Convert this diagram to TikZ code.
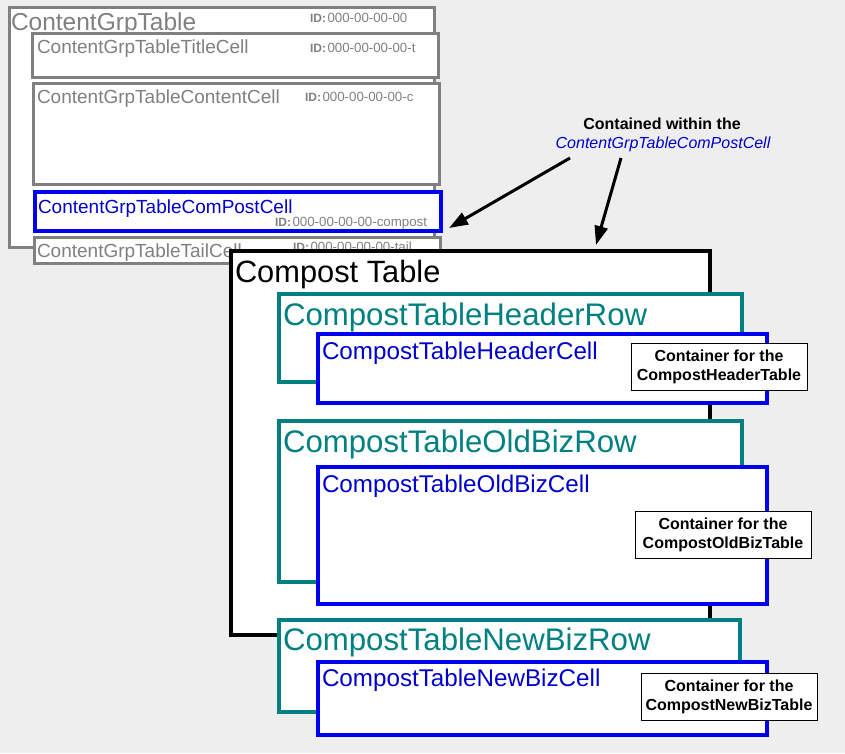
\documentclass[tikz,border=0pt]{standalone}
\usepackage{fontspec}
\setmainfont{Liberation Sans}
\usetikzlibrary{arrows.meta}
\definecolor{bg}{HTML}{EEEEEE}
\definecolor{gbord}{HTML}{808080}
\definecolor{gtext}{HTML}{808080}
\definecolor{bl}{HTML}{0000F0}
\definecolor{bltext}{HTML}{0000CC}
\definecolor{tl}{HTML}{008080}
\newcommand{\idt}[1]{{\fontsize{12}{12}\selectfont\bfseries ID:}\hspace{1.5pt}#1}
\begin{document}
\begin{tikzpicture}[x=1pt,y=-1pt,
  box/.style={draw, fill=white, rectangle, inner sep=0pt, outer sep=0pt, anchor=north west},
  gbox/.style={box, draw=gbord, line width=3pt},
  bbox/.style={box, draw=bl, line width=3.5pt},
  tbox/.style={box, draw=tl, line width=4pt},
  kbox/.style={box, draw=black, line width=4pt},
  lbl/.style={anchor=base west, inner sep=0pt, outer sep=0pt},
  gbig/.style={lbl, text=gtext, font=\fontsize{24.5}{28}\selectfont},
  gmid/.style={lbl, text=gtext, font=\fontsize{19}{22}\selectfont},
  bmid/.style={lbl, text=bltext, font=\fontsize{19}{22}\selectfont},
  idl/.style={lbl, text=gtext, font=\fontsize{13.3}{15}\selectfont},
  ktitle/.style={lbl, text=black, font=\fontsize{30.8}{34}\selectfont},
  trow/.style={lbl, text=tl, font=\fontsize{31.2}{34}\selectfont},
  bcell/.style={lbl, text=bltext, font=\fontsize{24.2}{28}\selectfont},
  note/.style={draw=black, line width=1pt, fill=white, rectangle, inner sep=0pt,
    minimum width=176pt, minimum height=47pt, align=center,
    font=\fontsize{16}{19}\selectfont\bfseries},
  ann/.style={anchor=base, inner sep=0pt, font=\fontsize{16}{19}\selectfont},
  arr/.style={line width=3pt, -{Triangle[length=19pt,width=13pt]}}
]
\fill[bg] (0,0) rectangle (845,753);
\useasboundingbox (0,0) rectangle (845,753);

% ContentGrpTable
\node[gbox, minimum width=425pt, minimum height=240pt] (cgt) at (9,7) {};
\node[gbig] (cgtT) at (11,30) {ContentGrpTable};
\node[idl] (cgtI) at (310,22) {\idt{000-00-00-00}};

\node[gbox, minimum width=406pt, minimum height=44pt] (title) at (32,33) {};
\node[gmid] (titleT) at (37,53) {ContentGrpTableTitleCell};
\node[idl] (titleI) at (310,52.5) {\idt{000-00-00-00-t}};

\node[gbox, minimum width=406pt, minimum height=101pt] (cont) at (33,83) {};
\node[gmid] (contT) at (37,103) {ContentGrpTableContentCell};
\node[idl] (contI) at (305,101.5) {\idt{000-00-00-00-c}};

\node[bbox, minimum width=406pt, minimum height=39pt] (cpc) at (35,192) {};
\node[bmid] (cpcT) at (38,213) {ContentGrpTableComPostCell};
\node[idl] (cpcI) at (275,226) {\idt{000-00-00-00-compost}};

\node[gbox, minimum width=406pt, minimum height=26pt] (tail) at (34,237) {};
\node[gmid] (tailT) at (37,257) {ContentGrpTableTailCell};
\node[idl] (tailI) at (293,251) {\idt{000-00-00-00-tail}};

% annotation and arrows
\node[ann] (ann1) at (662,129) {\bfseries Contained within the};
\node[ann, text=bltext] (ann2) at (663,148) {\itshape ContentGrpTableComPostCell};
\coordinate (s1) at (570,158);
\coordinate (e1) at (449,228);
\coordinate (s2) at (621,158);
\coordinate (e2) at (596,245);
\draw[arr] (s1) -- (e1);
\draw[arr] (s2) -- (e2);

% Compost Table
\node[kbox, minimum width=479pt, minimum height=384pt] (ct) at (231,251) {};
\node[ktitle] (ctT) at (235,282) {Compost Table};

\node[tbox, minimum width=463pt, minimum height=88pt] (hrow) at (279,294) {};
\node[trow] (hrowT) at (283,325) {CompostTableHeaderRow};
\node[bbox, minimum width=449pt, minimum height=69pt] (hcell) at (318,334) {};
\node[bcell] (hcellT) at (322,359) {CompostTableHeaderCell};
\node[note] (n1) at (719,366.5) {Container for the\\CompostHeaderTable};

\node[tbox, minimum width=463pt, minimum height=161pt] (orow) at (279,421) {};
\node[trow] (orowT) at (283,452) {CompostTableOldBizRow};
\node[bbox, minimum width=449pt, minimum height=137pt] (ocell) at (318,467) {};
\node[bcell] (ocellT) at (322,492) {CompostTableOldBizCell};
\node[note] (n2) at (723,534.5) {Container for the\\CompostOldBizTable};

\node[tbox, minimum width=461pt, minimum height=92pt] (nrow) at (279,620) {};
\node[trow] (nrowT) at (283,650) {CompostTableNewBizRow};
\node[bbox, minimum width=449pt, minimum height=73pt] (ncell) at (318,662) {};
\node[bcell] (ncellT) at (322,686) {CompostTableNewBizCell};
\node[note] (n3) at (729,696.5) {Container for the\\CompostNewBizTable};
\end{tikzpicture}
\end{document}
